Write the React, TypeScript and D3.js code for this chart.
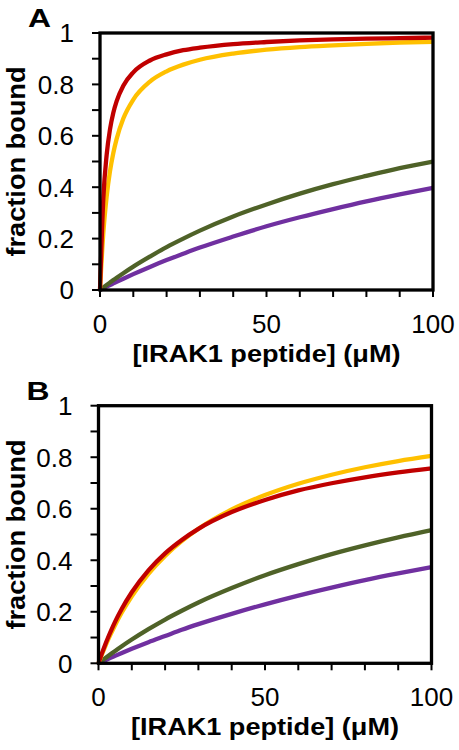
import React from "react";
import * as d3 from "d3";

const xValues = [0, 1, 2, 3, 4, 5, 7, 10, 15, 20, 25, 30, 40, 50, 60, 70, 80, 90, 100];

const redA = [0, 0.357, 0.526, 0.625, 0.69, 0.735, 0.795, 0.847, 0.893, 0.917, 0.933, 0.943, 0.957, 0.965, 0.971, 0.975, 0.978, 0.98, 0.982];
const yellowA = [0, 0.222, 0.364, 0.462, 0.533, 0.588, 0.667, 0.741, 0.811, 0.851, 0.877, 0.896, 0.92, 0.935, 0.945, 0.952, 0.958, 0.963, 0.966];
const greenA = [0, 0.0099, 0.0196, 0.0291, 0.0385, 0.0476, 0.0654, 0.0909, 0.13, 0.167, 0.2, 0.231, 0.286, 0.333, 0.375, 0.412, 0.444, 0.474, 0.5];
const purpleA = [0, 0.0065, 0.013, 0.0194, 0.0256, 0.0318, 0.044, 0.0617, 0.0898, 0.1163, 0.141, 0.165, 0.208, 0.248, 0.283, 0.315, 0.345, 0.372, 0.397];

const redB = [0, 0.0376, 0.0722, 0.104, 0.134, 0.162, 0.212, 0.276, 0.361, 0.427, 0.479, 0.522, 0.587, 0.634, 0.671, 0.699, 0.722, 0.741, 0.757];
const yellowB = [0, 0.0335, 0.065, 0.0945, 0.122, 0.149, 0.197, 0.26, 0.347, 0.417, 0.474, 0.522, 0.597, 0.653, 0.697, 0.732, 0.761, 0.785, 0.805];
const greenB = [0, 0.01, 0.0198, 0.0294, 0.0389, 0.0482, 0.0663, 0.0922, 0.1325, 0.17, 0.204, 0.236, 0.292, 0.342, 0.385, 0.424, 0.458, 0.489, 0.517];
const purpleB = [0, 0.0059, 0.0118, 0.0175, 0.0233, 0.0289, 0.04, 0.0562, 0.082, 0.106, 0.13, 0.152, 0.192, 0.229, 0.263, 0.294, 0.323, 0.349, 0.373];

const yTickLabels = ["0", "0.2", "0.4", "0.6", "0.8", "1"];
const xTickLabels = ["0", "50", "100"];
const xAxisTitle = "[IRAK1 peptide] (μM)";
const yAxisTitle = "fraction bound";

const colors = { purple: "#7030A0", green: "#4F6228", yellow: "#FFC000", red: "#C00000" };

const FONT = "'Liberation Sans', Arial, sans-serif";

type PanelProps = {
  label: string;
  left: number;
  right: number;
  top: number;
  bottom: number;
  series: { values: number[]; color: string }[];
};

function Panel({ label, left, right, top, bottom, series }: PanelProps) {
  const x = d3.scaleLinear().domain([0, 100]).range([left, right]);
  const y = d3.scaleLinear().domain([0, 1]).range([bottom, top]);
  const line = d3
    .line<[number, number]>()
    .x((d) => x(d[0]))
    .y((d) => y(d[1]))
    .curve(d3.curveMonotoneX);
  const yMinor = d3.range(0, 11).map((i) => i / 10);
  const xMinor = d3.range(0, 11).map((i) => i * 10);
  return (
    <g>
      {series.map((s, i) => (
        <path
          key={i}
          d={line(xValues.map((xv, j) => [xv, s.values[j]] as [number, number])) || ""}
          fill="none"
          stroke={s.color}
          strokeWidth={4.3}
          strokeLinecap="butt"
        />
      ))}
      <rect x={left} y={top} width={right - left} height={bottom - top} fill="none" stroke="#000" strokeWidth={3.3} />
      {yMinor.map((v) => (
        <line key={"y" + v} x1={left - 8} x2={left} y1={y(v)} y2={y(v)} stroke="#000" strokeWidth={2} />
      ))}
      {xMinor.map((v) => (
        <line key={"x" + v} x1={x(v)} x2={x(v)} y1={bottom} y2={bottom + 7} stroke="#000" strokeWidth={2} />
      ))}
      {yTickLabels.map((t) => (
        <text key={"yl" + t} x={left - 26} y={y(+t) + 9.3} textAnchor="end" fontFamily={FONT} fontSize={26} fill="#000">
          {t}
        </text>
      ))}
      {xTickLabels.map((t) => (
        <text key={"xl" + t} x={x(+t)} y={bottom + 43} textAnchor="middle" fontFamily={FONT} fontSize={26} fill="#000">
          {t}
        </text>
      ))}
      <text
        x={(left + right) / 2}
        y={bottom + 72}
        textAnchor="middle"
        fontFamily={FONT}
        fontSize={24}
        fontWeight="bold"
        fill="#000"
        textLength={268}
        lengthAdjust="spacingAndGlyphs"
      >
        {xAxisTitle}
      </text>
      <text
        transform={`translate(${25},${(top + bottom) / 2}) rotate(-90)`}
        textAnchor="middle"
        fontFamily={FONT}
        fontSize={25}
        fontWeight="bold"
        fill="#000"
        textLength={190}
        lengthAdjust="spacingAndGlyphs"
      >
        {yAxisTitle}
      </text>
      <text
        x={left - 72}
        y={top - 6}
        fontFamily={FONT}
        fontSize={26}
        fontWeight="bold"
        fill="#000"
        textLength={23}
        lengthAdjust="spacingAndGlyphs"
      >
        {label}
      </text>
    </g>
  );
}

export default function App() {
  return (
    <svg
      width={459}
      height={750}
      style={{ position: "absolute", left: 0, top: 0, background: "#fff" }}
    >
      <rect width={459} height={750} fill="#fff" />
      <Panel
        label="A"
        left={100}
        right={433}
        top={33}
        bottom={290}
        series={[
          { values: purpleA, color: colors.purple },
          { values: greenA, color: colors.green },
          { values: yellowA, color: colors.yellow },
          { values: redA, color: colors.red },
        ]}
      />
      <Panel
        label="B"
        left={98.5}
        right={431.5}
        top={405.7}
        bottom={663.3}
        series={[
          { values: purpleB, color: colors.purple },
          { values: greenB, color: colors.green },
          { values: yellowB, color: colors.yellow },
          { values: redB, color: colors.red },
        ]}
      />
    </svg>
  );
}
